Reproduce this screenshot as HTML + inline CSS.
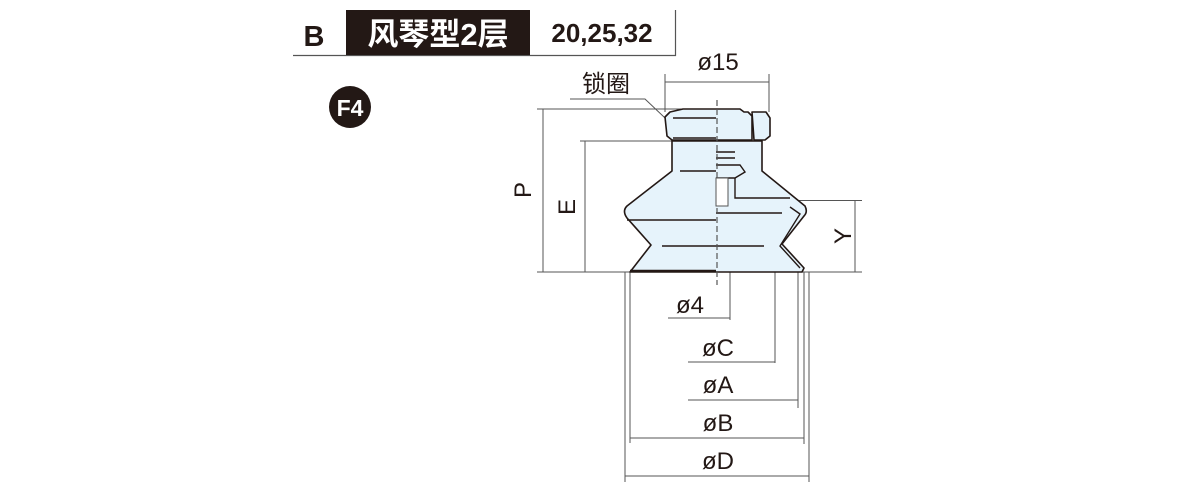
<!DOCTYPE html>
<html><head><meta charset="utf-8"><style>
body{margin:0;background:#fff;width:1200px;height:500px;overflow:hidden}
svg{display:block}
text{font-family:"Liberation Sans","Noto Sans CJK SC",sans-serif}
</style></head><body>
<svg width="1200" height="500" viewBox="0 0 1200 500" xmlns="http://www.w3.org/2000/svg">
<line x1="293" y1="55.5" x2="676" y2="55.5" stroke="#555" stroke-width="1.2"/>
<line x1="675.5" y1="10" x2="675.5" y2="56" stroke="#555" stroke-width="1.2"/>
<rect x="346" y="10" width="184" height="45" fill="#231815"/>
<text x="314" y="46" font-size="29" font-weight="bold" fill="#231815" text-anchor="middle">B</text>
<text x="438" y="45" font-size="31" font-weight="bold" fill="#fff" text-anchor="middle">风琴型2层</text>
<text x="602" y="42" font-size="26" font-weight="bold" fill="#231815" text-anchor="middle">20,25,32</text>
<circle cx="350" cy="107" r="21" fill="#231815"/>
<text x="350" y="116" font-size="23" font-weight="bold" fill="#fff" text-anchor="middle">F4</text>

<g stroke="#555" stroke-width="1" fill="none">
<line x1="537" y1="109" x2="690" y2="109"/>
<line x1="543" y1="109" x2="543" y2="272"/>
<line x1="580" y1="141" x2="672" y2="141"/>
<line x1="585" y1="141" x2="585" y2="272"/>
<line x1="537" y1="272" x2="862" y2="272"/>
<line x1="795" y1="200.5" x2="862" y2="200.5"/>
<line x1="855" y1="200" x2="855" y2="272"/>
<line x1="665" y1="74" x2="665" y2="112"/>
<line x1="769" y1="74" x2="769" y2="112"/>
<line x1="665" y1="82" x2="769" y2="82"/>
<polyline points="570,99 645,99 683,135"/>
<line x1="625" y1="272" x2="625" y2="482"/>
<line x1="630" y1="272" x2="630" y2="443"/>
<line x1="730" y1="272" x2="730" y2="320"/>
<line x1="668" y1="318" x2="730" y2="318"/>
<line x1="775" y1="272" x2="775" y2="363"/>
<line x1="688" y1="362" x2="775" y2="362"/>
<line x1="798" y1="272" x2="798" y2="408"/>
<line x1="688" y1="400" x2="798" y2="400"/>
<line x1="804" y1="272" x2="804" y2="444"/>
<line x1="630" y1="438" x2="804" y2="438"/>
<line x1="809" y1="272" x2="809" y2="482"/>
<line x1="625" y1="476" x2="809" y2="476"/>
</g>

<g stroke="#231815" stroke-width="1.6" fill="#e6f3fb" stroke-linejoin="round">
<path d="M683,109 L740,109 L744,112 L748,112 L752,116 L752,140 L672,140 L667,136 L665,117 L670,112 Z"/>
<path d="M752,112 L766,112 L770,118 L770,136 L765,140 L754,140 Z"/>
<path d="M672,141 L762,141 L762,171 L805,206 Q808,212 804,216 L782,244 L804,268 L802,272 L630,272 L651,245 L627,218 Q622,211 627,206 L672,171 Z"/>
</g>
<g stroke="#231815" stroke-width="1.4" fill="none">
<line x1="673" y1="118" x2="716" y2="118"/>
<line x1="673" y1="138" x2="716" y2="138"/>
<line x1="680" y1="171" x2="716" y2="171"/>
<line x1="627" y1="220" x2="716" y2="220"/>
<line x1="662" y1="246" x2="764" y2="246"/>
<line x1="716" y1="213" x2="782" y2="213"/>
<line x1="716" y1="152" x2="735" y2="152"/>
<line x1="716" y1="158" x2="735" y2="158"/>
<polyline points="716,165 740,165 745,172 735,178 716,178"/>
<polyline points="735,178 735,198 790,198"/>
<polyline points="790,207 800,214 780,246 800,268"/>
<line x1="630" y1="271" x2="716" y2="271" stroke-width="2.5"/>
</g>
<line x1="717" y1="100" x2="717" y2="285" stroke="#555" stroke-width="1.2" stroke-dasharray="6,3"/>
<rect x="716" y="178" width="12" height="28" fill="#fff" stroke="#555" stroke-width="1"/>

<g font-size="24" fill="#231815" text-anchor="middle">
<text x="718" y="70">ø15</text>
<text x="606" y="92">锁圈</text>
<text x="690" y="313">ø4</text>
<text x="718" y="356">øC</text>
<text x="718" y="393">øA</text>
<text x="718" y="431">øB</text>
<text x="718" y="469">øD</text>
<text transform="translate(531,190) rotate(-90)">P</text>
<text transform="translate(575,207) rotate(-90)">E</text>
<text transform="translate(851,236) rotate(-90)">Y</text>
</g>
</svg>
</body></html>
